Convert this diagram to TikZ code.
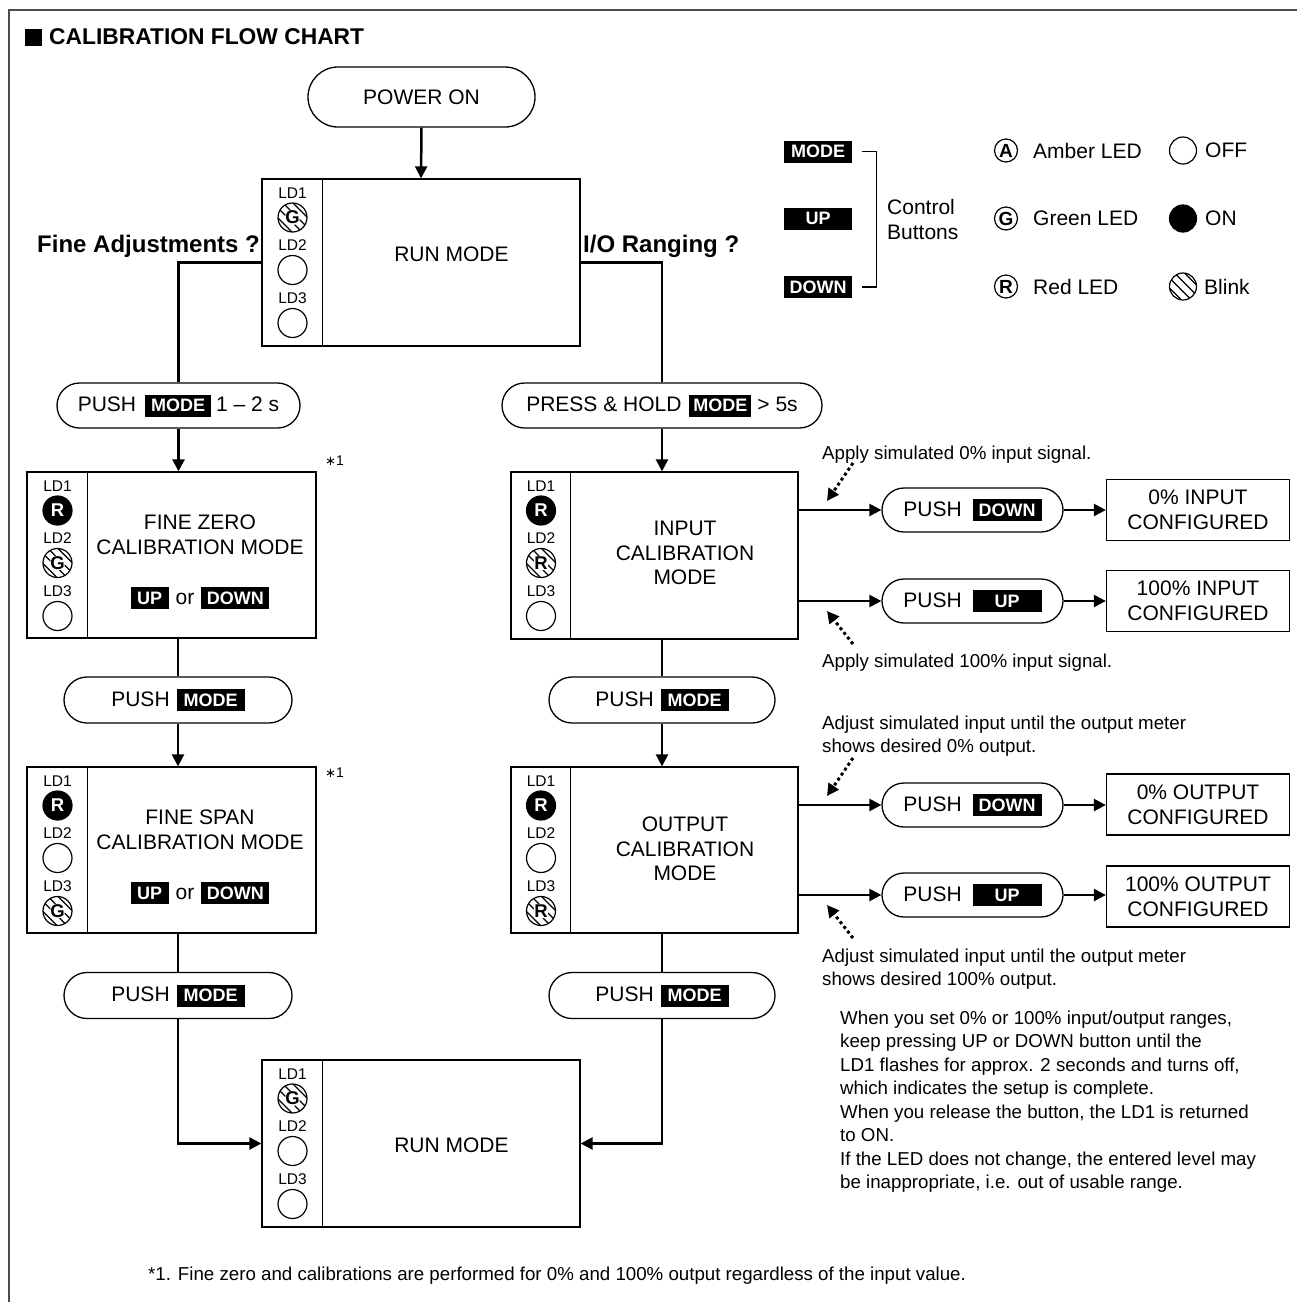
\documentclass[tikz,border=0pt]{standalone}
\usepackage{fontspec}
\setmainfont{Liberation Sans}
\newfontfamily\djv{DejaVu Sans}
\usetikzlibrary{arrows.meta,shapes.misc,calc}
\newcommand\fsz[2]{\fontsize{#1}{#2}\selectfont}
\newcommand\ledfont{\bfseries\fsz{18.5}{18.5}}
\newcommand\btn[2]{{\setlength\fboxsep{0pt}\colorbox{black}{\rule[-5pt]{0pt}{22pt}\makebox[#1]{\color{white}\bfseries\fsz{18}{18}#2}}}}
\newcommand\ledcolumn[9]{%
  \node[ldlab] (#1a) at (#2,#3+14) {LD1};
  \node[#4] (#1b) at (#2,#3+38.5) {#5};
  \node[ldlab] (#1c) at (#2,#3+66) {LD2};
  \node[#6] (#1d) at (#2,#3+91) {#7};
  \node[ldlab] (#1e) at (#2,#3+119) {LD3};
  \node[#8] (#1f) at (#2,#3+144) {#9};
}
\tikzset{
  box/.style={draw, line width=1.3pt, rectangle, inner sep=0pt},
  boxline/.style={line width=1.3pt},
  pill/.style={draw, line width=1.3pt, rounded rectangle, inner sep=0pt},
  conn/.style={line width=2.5pt},
  arr/.style={conn, -{Triangle[length=12pt,width=12pt]}},
  dotarr/.style={line width=3pt, dash pattern=on 3pt off 3pt, -{Triangle[length=12pt,width=12pt]}},
  boxtext/.style={align=center, inner sep=0pt, font=\fsz{21}{24.5}},
  ldlab/.style={inner sep=0pt, font=\fsz{15.5}{15.5}},
  led/.style={circle, draw, line width=1.2pt, minimum size=29pt, inner sep=0pt, font=\ledfont},
  ledon/.style={led, fill=black, text=white},
  ledblink/.style={led, path picture={
      \foreach \d in {-15,-5,5,15}{
        \draw[line width=1.1pt] ([shift={({\d-20},-20)}]path picture bounding box.center) -- ([shift={({\d+20},20)}]path picture bounding box.center);}
      \fill[white] (path picture bounding box.center) circle[radius=#1];
    }},
  legled/.style={circle, draw, line width=1.2pt, minimum size=23pt, inner sep=0pt, font=\bfseries\fsz{19}{19}},
  anno/.style={inner sep=0pt, font=\fsz{18.7}{23.5}, align=left},
  cfg/.style={box, minimum width=183pt, minimum height=61pt, align=center, font=\fsz{21}{25}},
}
\begin{document}
\begin{tikzpicture}[x=1pt,y=-1pt, font=\fsz{21}{25}]
\useasboundingbox (0,0) rectangle (1297,1302);
% frame
\draw[line width=1.5pt, black!70] (9,1302) -- (9,10) -- (1297,10);
% title
\node[fill=black, minimum size=17pt, inner sep=0pt] (tsq) at (33.5,37) {};
\node[anchor=west, font=\bfseries\fsz{22.8}{27}, inner sep=0pt] (title) at (49,37) {CALIBRATION FLOW CHART};

% power on
\node[pill, minimum width=227pt, minimum height=60pt] (power) at (421.5,97) {POWER ON};

% run mode 1
\node[box, minimum width=318pt, minimum height=167pt] (run1) at (421,262.5) {};
\draw[boxline] ([xshift=61pt]run1.north west) -- ([xshift=61pt]run1.south west);
\node[boxtext] (run1t) at (451.5,254) {RUN MODE};
\ledcolumn{ra}{292.5}{179}{ledblink=7.5pt}{G}{led}{}{led}{}

\node[anchor=base west, inner sep=0pt, font=\bfseries\fsz{24}{27}] (fineq) at (37,252) {Fine Adjustments ?};
\node[anchor=base west, inner sep=0pt, font=\bfseries\fsz{24}{27}] (ioq) at (583,252) {I/O Ranging ?};

% pills row 1
\node[pill, minimum width=243pt, minimum height=45pt] (p1) at (178.5,405.5) {PUSH\hspace{9pt}\btn{66pt}{MODE}\hspace{5pt}1 – 2 s};
\node[pill, minimum width=320pt, minimum height=45pt] (p2) at (662,405.5) {PRESS \& HOLD\hspace{8pt}\btn{62pt}{MODE}\hspace{6pt}> 5s};

% fine zero
\node[box, minimum width=289pt, minimum height=166pt] (fz) at (171.5,555) {};
\draw[boxline] ([xshift=61pt]fz.north west) -- ([xshift=61pt]fz.south west);
\node[boxtext] (fzt1) at (200,522) {FINE ZERO};
\node[boxtext] (fzt2) at (200,547) {CALIBRATION MODE};
\node[boxtext] (fzt3) at (200,598) {\btn{38pt}{UP}\hspace{7pt}or\hspace{7pt}\btn{68pt}{DOWN}};
\ledcolumn{fa}{57.5}{472}{ledon}{R}{ledblink=7.5pt}{G}{led}{}
\node[anchor=west, inner sep=0pt, font=\fsz{14}{14}] (st1) at (325,461) {{\djv\fsz{13}{13}∗}1};

% input calibration
\node[box, minimum width=287pt, minimum height=167pt] (inp) at (654.5,555.5) {};
\draw[boxline] ([xshift=60pt]inp.north west) -- ([xshift=60pt]inp.south west);
\node[boxtext] (inpt) at (685,553) {INPUT\\CALIBRATION\\MODE};
\ledcolumn{ia}{541}{472}{ledon}{R}{ledblink=7.5pt}{R}{led}{}

% input side branch
\node[pill, minimum width=181pt, minimum height=44pt] (pd1) at (972.5,510) {PUSH\hspace{11pt}\btn{69pt}{DOWN}};
\node[pill, minimum width=181pt, minimum height=44pt] (pu1) at (972.5,601) {PUSH\hspace{11pt}\btn{69pt}{UP}};
\node[cfg] (c1) at (1198,510) {0\% INPUT\\CONFIGURED};
\node[cfg] (c2) at (1198,601) {100\% INPUT\\CONFIGURED};
\draw[arr] (inp.east |- pd1.west) -- (pd1.west);
\draw[arr] (pd1.east) -- (c1.west);
\draw[arr] (inp.east |- pu1.west) -- (pu1.west);
\draw[arr] (pu1.east) -- (c2.west);
\node[anno, anchor=base west] (a1) at (822,459) {Apply simulated 0\% input signal.};
\node[anno, anchor=base west] (a2) at (822,667) {Apply simulated 100\% input signal.};
\coordinate (d1s) at (853,463); \coordinate (d1e) at (827,501);
\coordinate (d2s) at (853,644); \coordinate (d2e) at (827,611);
\draw[dotarr] (d1s) -- (d1e);
\draw[dotarr] (d2s) -- (d2e);

% pills row 2
\node[pill, minimum width=228pt, minimum height=46pt] (p3) at (178,700) {PUSH\hspace{7pt}\btn{68pt}{MODE}};
\node[pill, minimum width=226pt, minimum height=46pt] (p4) at (662,700) {PUSH\hspace{7pt}\btn{68pt}{MODE}};

% fine span
\node[box, minimum width=289pt, minimum height=166pt] (fs) at (171.5,850) {};
\draw[boxline] ([xshift=61pt]fs.north west) -- ([xshift=61pt]fs.south west);
\node[boxtext] (fst1) at (200,817) {FINE SPAN};
\node[boxtext] (fst2) at (200,842) {CALIBRATION MODE};
\node[boxtext] (fst3) at (200,893) {\btn{38pt}{UP}\hspace{7pt}or\hspace{7pt}\btn{68pt}{DOWN}};
\ledcolumn{sa}{57.5}{767}{ledon}{R}{led}{}{ledblink=7.5pt}{G}
\node[anchor=west, inner sep=0pt, font=\fsz{14}{14}] (st2) at (325,773) {{\djv\fsz{13}{13}∗}1};

% output calibration
\node[box, minimum width=287pt, minimum height=166pt] (out) at (654.5,850) {};
\draw[boxline] ([xshift=60pt]out.north west) -- ([xshift=60pt]out.south west);
\node[boxtext] (outt) at (685,849) {OUTPUT\\CALIBRATION\\MODE};
\ledcolumn{oa}{541}{767}{ledon}{R}{led}{}{ledblink=7.5pt}{R}

% output side branch
\node[pill, minimum width=181pt, minimum height=44pt] (pd2) at (972.5,805) {PUSH\hspace{11pt}\btn{69pt}{DOWN}};
\node[pill, minimum width=181pt, minimum height=44pt] (pu2) at (972.5,895) {PUSH\hspace{11pt}\btn{69pt}{UP}};
\node[cfg] (c3) at (1198,804.5) {0\% OUTPUT\\CONFIGURED};
\node[cfg] (c4) at (1198,896.5) {100\% OUTPUT\\CONFIGURED};
\draw[arr] (out.east |- pd2.west) -- (pd2.west);
\draw[arr] (pd2.east) -- (pd2.east -| c3.west);
\draw[arr] (out.east |- pu2.west) -- (pu2.west);
\draw[arr] (pu2.east) -- (pu2.east -| c4.west);
\node[anno, anchor=north west] (a3) at (822,715.5) {Adjust simulated input until the output meter\\shows desired 0\% output.};
\node[anno, anchor=north west] (a4) at (822,948.5) {Adjust simulated input until the output meter\\shows desired 100\% output.};
\coordinate (d3s) at (853,758); \coordinate (d3e) at (827,796);
\coordinate (d4s) at (853,938); \coordinate (d4e) at (827,905);
\draw[dotarr] (d3s) -- (d3e);
\draw[dotarr] (d4s) -- (d4e);

% pills row 3
\node[pill, minimum width=228pt, minimum height=46pt] (p5) at (178,995.5) {PUSH\hspace{7pt}\btn{68pt}{MODE}};
\node[pill, minimum width=226pt, minimum height=46pt] (p6) at (662,995.5) {PUSH\hspace{7pt}\btn{68pt}{MODE}};

% run mode 2
\node[box, minimum width=318pt, minimum height=167pt] (run2) at (421,1143.5) {};
\draw[boxline] ([xshift=61pt]run2.north west) -- ([xshift=61pt]run2.south west);
\node[boxtext] (run2t) at (451.5,1145) {RUN MODE};
\ledcolumn{rb}{292.5}{1060}{ledblink=7.5pt}{G}{led}{}{led}{}

% main connectors
\draw[arr] (power.south) -- (run1.north);
\draw[conn] (run1.west) -| (p1.north);
\draw[arr] (p1.south) -- (p1.south |- fz.north);
\draw[conn] (p3.north |- fz.south) -- (p3.north);
\draw[arr] (p3.south) -- (p3.south |- fs.north);
\draw[conn] (p5.north |- fs.south) -- (p5.north);
\draw[arr] (p5.south) |- (run2.west);
\draw[conn] (run1.east) -| (p2.north);
\draw[arr] (p2.south) -- (p2.south |- inp.north);
\draw[conn] (p4.north |- inp.south) -- (p4.north);
\draw[arr] (p4.south) -- (p4.south |- out.north);
\draw[conn] (p6.north |- out.south) -- (p6.north);
\draw[arr] (p6.south) |- (run2.east);

% legend
\node[inner sep=0pt] (lmode) at (818,151.5) {\btn{68pt}{MODE}};
\node[inner sep=0pt] (lup) at (818,218.5) {\btn{68pt}{UP}};
\node[inner sep=0pt] (ldown) at (818,287) {\btn{68pt}{DOWN}};
\draw[line width=1.2pt] ([xshift=10pt]lmode.east) -- ++(14,0) |- ([xshift=10pt]ldown.east);
\node[anchor=west, align=left, inner sep=0pt] (lctrl) at (887,219.5) {Control\\Buttons};
\node[legled] (la) at (1006,150.5) {A};
\node[legled] (lg) at (1006,218.5) {G};
\node[legled] (lr) at (1006,286.5) {R};
\node[anchor=west, inner sep=0pt] (lat) at (1033,150.5) {Amber LED};
\node[anchor=west, inner sep=0pt] (lgt) at (1033,218.5) {Green LED};
\node[anchor=west, inner sep=0pt] (lrt) at (1033,286.5) {Red LED};
\node[led, minimum size=27pt] (loff) at (1183,150.5) {};
\node[ledon, minimum size=27pt] (lon) at (1183,218.5) {};
\node[ledblink=0pt, minimum size=27pt] (lbl) at (1183,286.5) {};
\node[anchor=west, inner sep=0pt] (lofft) at (1205,150.5) {OFF};
\node[anchor=west, inner sep=0pt] (lont) at (1205,218.5) {ON};
\node[anchor=west, inner sep=0pt] (lblt) at (1204,286.5) {Blink};

% paragraph
\node[anno, anchor=north west] (para) at (840,1010.3) {When you set 0\% or 100\% input/output ranges,\\keep pressing UP or DOWN button until the\\LD1 flashes for approx. 2 seconds and turns off,\\which indicates the setup is complete.\\When you release the button, the LD1 is returned\\to ON.\\If the LED does not change, the entered level may\\be inappropriate, i.e. out of usable range.};

% footnote
\node[anno, anchor=base west] (fn) at (148,1280) {*1. Fine zero and calibrations are performed for 0\% and 100\% output regardless of the input value.};
\end{tikzpicture}
\end{document}
